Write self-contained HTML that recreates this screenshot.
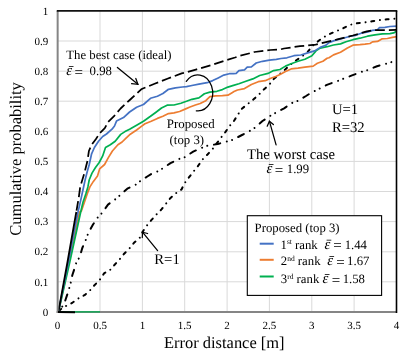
<!DOCTYPE html>
<html><head><meta charset="utf-8"><title>CDF of error distance</title>
<style>
html,body{margin:0;padding:0;background:#fff;}
body{width:409px;height:361px;overflow:hidden;}
svg{display:block;will-change:transform;transform:translateZ(0);}
text{font-family:"Liberation Serif",serif;fill:#000;text-rendering:geometricPrecision;}
.tick text{font-size:11px;}
.i{font-style:italic;}
</style></head>
<body>
<svg width="409" height="361" viewBox="0 0 409 361">
<rect x="0" y="0" width="409" height="361" fill="#fff"/>
<g stroke="#d9d9d9" stroke-width="1" fill="none">
<line x1="100.0" y1="10.95" x2="100.0" y2="311.95"/>
<line x1="142.4" y1="10.95" x2="142.4" y2="311.95"/>
<line x1="184.7" y1="10.95" x2="184.7" y2="311.95"/>
<line x1="227.1" y1="10.95" x2="227.1" y2="311.95"/>
<line x1="269.4" y1="10.95" x2="269.4" y2="311.95"/>
<line x1="311.8" y1="10.95" x2="311.8" y2="311.95"/>
<line x1="354.1" y1="10.95" x2="354.1" y2="311.95"/>
<line x1="57.65" y1="41.0" x2="396.5" y2="41.0"/>
<line x1="57.65" y1="71.2" x2="396.5" y2="71.2"/>
<line x1="57.65" y1="101.2" x2="396.5" y2="101.2"/>
<line x1="57.65" y1="131.3" x2="396.5" y2="131.3"/>
<line x1="57.65" y1="161.4" x2="396.5" y2="161.4"/>
<line x1="57.65" y1="191.5" x2="396.5" y2="191.5"/>
<line x1="57.65" y1="221.6" x2="396.5" y2="221.6"/>
<line x1="57.65" y1="251.8" x2="396.5" y2="251.8"/>
<line x1="57.65" y1="281.8" x2="396.5" y2="281.8"/>
</g>
<!-- curves -->
<g fill="none" stroke-linejoin="round">
<polyline points="58.5,311.5 62.0,307.0 64.7,302.2 68.2,291.8 70.9,282.1 72.3,275.2 75.1,266.8 76.5,262.0 79.7,257.0 82.3,248.0 86.6,238.0 88.2,233.1 93.0,224.5 98.6,216.2 102.3,212.8 108.0,204.6 115.9,198.9 120.1,195.2 127.3,188.7 136.3,184.4 140.4,180.9 147.3,176.5 152.8,173.1 158.0,171.3 162.5,168.5 170.5,163.1 179.6,158.8 184.7,157.2 193.2,151.6 201.6,147.9 207.5,145.7 217.8,144.0 228.2,141.2 233.2,139.6 242.0,135.0 250.7,130.4 255.1,127.6 262.5,121.0 270.2,115.9 274.9,113.2 284.1,108.3 292.5,102.7 297.7,100.9 306.0,96.0 309.8,93.6 313.4,91.7 318.3,89.2 327.5,84.6 336.7,81.4 341.6,79.4 352.0,75.4 362.3,71.6 367.2,70.2 377.0,66.2 386.8,63.6 392.4,61.8 396.5,60.3" stroke="#000" stroke-width="2" stroke-linecap="round" stroke-dasharray="6.4 6.8 0.01 5.5 0.01 6.78" stroke-dashoffset="12.5"/>
<polyline points="58.5,311.5 62.6,307.5 66.1,306.0 72.0,303.0 77.9,298.7 84.5,295.2 89.6,290.8 94.2,285.5 99.6,280.0 104.2,273.2 109.7,270.4 114.4,265.0 119.4,259.6 123.9,254.0 129.1,248.8 134.0,242.8 139.5,238.2 142.5,232.0 146.5,226.0 151.3,220.2 156.3,214.6 161.5,209.4 165.6,204.2 170.0,198.5 175.3,193.6 181.5,189.5 184.6,183.2 188.9,177.4 193.4,171.7 198.0,166.0 202.5,159.5 207.5,154.5 212.5,149.1 219.9,139.1 225.7,131.6 229.1,126.6 234.1,120.8 238.2,114.2 241.0,109.5 247.0,104.5 253.6,99.3 258.8,94.6 263.8,89.5 269.1,84.9 273.9,78.8 279.8,74.1 285.2,69.5 290.4,64.7 295.9,60.5 301.5,56.8 307.7,51.9 312.5,46.0 317.0,42.2 321.6,38.4 327.8,34.9 335.6,31.4 342.5,28.7 348.8,25.2 356.7,23.3 364.7,22.4 372.0,21.3 379.3,20.1 387.1,19.3 394.9,18.6 396.5,18.4" stroke="#000" stroke-width="2" stroke-linecap="round" stroke-dasharray="3 5.8 0.01 5.72" stroke-dashoffset="13.75"/>
<polyline points="58.5,311.5 69.0,262.0 79.6,212.0 81.3,211.2 84.4,202.2 87.2,193.9 89.9,186.9 93.4,181.4 97.5,175.9 99.6,168.9 104.6,164.5 108.2,157.9 112.4,151.0 117.9,144.8 122.1,142.0 125.0,139.2 130.3,134.2 136.6,130.0 142.1,125.9 145.0,123.8 151.2,121.2 157.4,118.4 162.9,116.3 168.5,113.6 174.0,112.9 179.6,111.5 185.1,109.1 190.0,107.0 195.4,105.0 200.2,103.5 205.8,100.7 209.9,96.6 215.5,95.9 222.4,95.6 227.9,95.2 232.1,92.7 234.0,91.6 237.5,90.0 244.5,88.6 251.4,84.5 258.3,81.7 265.2,80.7 270.8,78.2 276.3,76.2 280.0,74.4 285.5,71.6 291.1,68.9 298.0,68.2 304.9,67.2 313.2,66.1 317.4,63.3 322.9,61.2 327.1,58.2 329.0,57.7 333.5,54.9 340.5,52.2 347.4,48.0 352.9,45.2 359.9,44.7 365.0,44.2 370.0,43.5 372.5,41.9 377.5,41.4 381.8,38.9 387.4,38.5 392.4,37.3 396.8,36.7" stroke="#ed7d31" stroke-width="1.7"/>
<polyline points="58.5,311.5 69.8,262.0 80.7,212.0 83.0,202.2 85.8,193.9 87.9,186.9 89.2,180.0 92.0,173.1 95.5,167.5 99.2,162.5 102.7,155.9 105.5,147.5 110.3,144.8 115.2,141.3 120.7,134.4 125.0,131.6 129.6,129.3 136.6,125.2 143.5,121.2 150.5,116.3 156.0,112.2 161.5,108.0 167.1,105.2 174.0,105.0 180.9,103.2 186.5,101.3 191.9,99.3 198.9,97.9 204.4,93.8 209.9,92.1 216.9,91.3 222.4,89.6 227.9,87.1 233.5,85.4 238.9,83.8 245.9,81.3 252.8,78.9 259.7,75.5 268.0,73.4 273.6,70.6 280.0,69.5 285.5,66.1 291.1,63.7 298.0,61.2 304.9,59.2 311.9,55.7 316.0,50.9 320.2,48.1 327.1,46.7 333.5,45.0 340.5,43.9 346.0,41.8 352.9,39.7 359.9,38.2 367.5,36.2 375.0,34.8 382.4,33.9 389.9,33.6 393.7,32.9 396.8,31.1" stroke="#00b050" stroke-width="1.7"/>
<polyline points="58.5,311.5 68.3,262.0 78.0,212.0 80.9,199.4 83.0,189.7 85.1,180.0 87.2,171.7 89.2,164.8 91.6,153.8 94.4,147.5 98.5,141.3 102.7,136.5 106.5,134.0 112.0,129.2 114.5,126.0 116.5,121.1 123.5,117.6 129.6,112.0 136.6,107.2 143.5,104.5 150.5,98.3 157.4,96.2 162.9,93.5 168.5,89.3 175.4,87.9 182.3,87.0 186.5,86.7 191.9,85.5 198.9,84.1 207.2,82.7 212.7,80.6 218.2,77.9 223.8,75.1 229.3,73.7 233.5,73.6 236.2,73.4 238.9,70.6 244.5,69.9 247.2,67.2 251.4,66.9 256.2,63.0 262.5,61.3 269.4,60.2 276.3,59.3 281.0,58.5 286.9,57.8 293.9,55.7 300.8,55.0 307.7,52.9 314.6,50.9 320.2,47.4 325.7,45.3 329.0,42.6 334.9,40.4 343.2,38.3 350.2,36.2 355.7,35.3 362.6,32.8 367.9,31.9 372.5,30.4 377.5,29.8 379.3,27.7 384.9,27.3 389.9,26.5 396.8,26.1" stroke="#4472c4" stroke-width="1.7"/>
<polyline points="58.5,311.5 67.5,262.0 76.3,212.0" stroke="#000" stroke-width="1.8"/>
<polyline points="76.3,212.0 78.9,196.6 80.2,186.9 82.3,180.0 84.4,173.1 86.1,166.2 87.5,160.7 88.9,151.0 91.6,144.8 95.8,139.2 99.9,133.0 104.8,128.2 108.2,121.9 113.8,116.4 120.6,108.5 130.3,99.5 140.7,89.8 142.3,88.8 154.6,83.8 168.0,78.5 181.6,73.4 185.0,72.7 196.7,69.3 210.6,65.4 225.2,60.5 235.0,57.5 239.6,55.9 254.5,52.0 270.4,50.0 280.5,49.4 284.0,48.5 300.0,46.2 315.7,44.6 327.0,41.8 336.3,39.7 344.6,37.6 352.9,35.5 359.9,33.5 366.8,31.4 375.1,30.0 385.0,30.2 396.2,29.8" stroke="#000" stroke-width="1.75" stroke-dasharray="9.7 4.05" stroke-dashoffset="12.35"/>
</g>
<!-- axes -->
<line x1="57.65" y1="10.95" x2="57.65" y2="312.95" stroke="#858585" stroke-width="2"/>
<line x1="56.65" y1="311.95" x2="396.5" y2="311.95" stroke="#858585" stroke-width="2"/>
<line x1="56.75" y1="10.95" x2="397.3" y2="10.95" stroke="#111" stroke-width="1.8"/>
<line x1="396.5" y1="10.95" x2="396.5" y2="312.95" stroke="#000" stroke-width="1.6"/>
<line x1="58" y1="311.9" x2="100" y2="311.9" stroke="#00b050" stroke-width="1.4"/>
<line x1="58" y1="312" x2="75" y2="312.3" stroke="#000" stroke-width="2"/>
<g class="tick">
<text x="57.6" y="328.8" text-anchor="middle">0</text>
<text x="100.0" y="328.8" text-anchor="middle">0.5</text>
<text x="142.4" y="328.8" text-anchor="middle">1</text>
<text x="184.7" y="328.8" text-anchor="middle">1.5</text>
<text x="227.1" y="328.8" text-anchor="middle">2</text>
<text x="269.4" y="328.8" text-anchor="middle">2.5</text>
<text x="311.8" y="328.8" text-anchor="middle">3</text>
<text x="354.1" y="328.8" text-anchor="middle">3.5</text>
<text x="396.5" y="328.8" text-anchor="middle">4</text>
<text x="48.2" y="14.6" text-anchor="end">1</text>
<text x="48.2" y="44.8" text-anchor="end">0.9</text>
<text x="48.2" y="74.9" text-anchor="end">0.8</text>
<text x="48.2" y="105.0" text-anchor="end">0.7</text>
<text x="48.2" y="135.0" text-anchor="end">0.6</text>
<text x="48.2" y="165.1" text-anchor="end">0.5</text>
<text x="48.2" y="195.2" text-anchor="end">0.4</text>
<text x="48.2" y="225.3" text-anchor="end">0.3</text>
<text x="48.2" y="255.4" text-anchor="end">0.2</text>
<text x="48.2" y="285.5" text-anchor="end">0.1</text>
<text x="48.2" y="315.6" text-anchor="end">0</text>
</g>
<text x="224.3" y="348" font-size="16.45" text-anchor="middle">Error distance [m]</text>
<text transform="translate(20.9,158.9) rotate(-90)" font-size="16.5" text-anchor="middle">Cumulative probability</text>

<!-- annotations -->
<text x="66.3" y="59.1" font-size="12.75">The best case (ideal)</text>
<text x="66.3" y="74.9" font-size="14.8" class="i">ε</text>
<text x="74.45" y="76.6" font-size="15">=</text>
<text x="89.6" y="74.9" font-size="12.75">0.98</text>
<line x1="68.9" y1="66.5" x2="73.5" y2="66.5" stroke="#000" stroke-width="0.8"/>
<g stroke="#000" stroke-width="1.25" fill="none" stroke-linecap="round">
<line x1="117.4" y1="67.4" x2="137.9" y2="84.3"/>
<polyline points="131.6,83.7 137.9,84.3 135.8,78.5"/>
<line x1="276.1" y1="144.9" x2="269.4" y2="121.2"/>
<polyline points="267.2,126.2 269.4,121.2 273.4,124.6"/>
<line x1="157.6" y1="250.6" x2="142.5" y2="232.2"/>
<polyline points="142.3,237.6 142.5,232.2 147.6,233.5"/>
<path d="M 186.3,81.4 A 14.9 18 0 1 1 196.3,110.8"/>
</g>
<text x="166.8" y="128.1" font-size="12.85">Proposed</text>
<text x="169.6" y="144.1" font-size="12.8">(top 3)</text>
<text x="247.1" y="159" font-size="14.65">The worst case</text>
<text x="266.5" y="173" font-size="14.8" class="i">ε</text>
<text x="274.85" y="174.7" font-size="15">=</text>
<text x="286.8" y="173" font-size="12.75">1.99</text>
<line x1="268.8" y1="164.5" x2="273.5" y2="164.5" stroke="#000" stroke-width="0.8"/>
<text x="331.9" y="113.9" font-size="14.7">U=1</text>
<text x="331.9" y="131.7" font-size="14.7">R=32</text>
<text x="154.3" y="263.9" font-size="14.7">R=1</text>

<!-- legend -->
<rect x="247.3" y="215.7" width="134.3" height="79.7" fill="#fff" stroke="#000" stroke-width="1.1"/>
<text x="254.6" y="232" font-size="12.75">Proposed (top 3)</text>
<line x1="259.7" y1="243.7" x2="273.7" y2="243.7" stroke="#4472c4" stroke-width="2"/>
<line x1="259.7" y1="259.8" x2="273.7" y2="259.8" stroke="#ed7d31" stroke-width="2"/>
<line x1="259.7" y1="276.5" x2="273.7" y2="276.5" stroke="#00b050" stroke-width="2"/>
<text x="280.5" y="248.6" font-size="12.75">1<tspan font-size="7.5" dy="-4.4">st</tspan><tspan dy="4.4"> rank</tspan></text>
<text x="280.8" y="264.9" font-size="12.75">2<tspan font-size="7.5" dy="-4.4">nd</tspan><tspan dy="4.4"> rank</tspan></text>
<text x="280.8" y="282.9" font-size="12.75">3<tspan font-size="7.5" dy="-4.4">rd</tspan><tspan dy="4.4"> rank</tspan></text>
<text x="324.4" y="248.6" font-size="14.8" class="i">ε</text>
<text x="333.25" y="250.3" font-size="15">=</text>
<text x="344.68" y="248.6" font-size="12.75">1.44</text>
<text x="327.2" y="264.9" font-size="14.8" class="i">ε</text>
<text x="336.25" y="266.6" font-size="15">=</text>
<text x="347.08" y="264.9" font-size="12.75">1.67</text>
<text x="322.6" y="282.9" font-size="14.8" class="i">ε</text>
<text x="331.75" y="284.6" font-size="15">=</text>
<text x="342.68" y="282.9" font-size="12.75">1.58</text>
<g stroke="#000" stroke-width="0.8">
<line x1="326.6" y1="240.2" x2="331.3" y2="240.2"/>
<line x1="329.4" y1="256.5" x2="334.1" y2="256.5"/>
<line x1="324.8" y1="274.5" x2="329.5" y2="274.5"/>
</g>
</svg>
</body></html>
